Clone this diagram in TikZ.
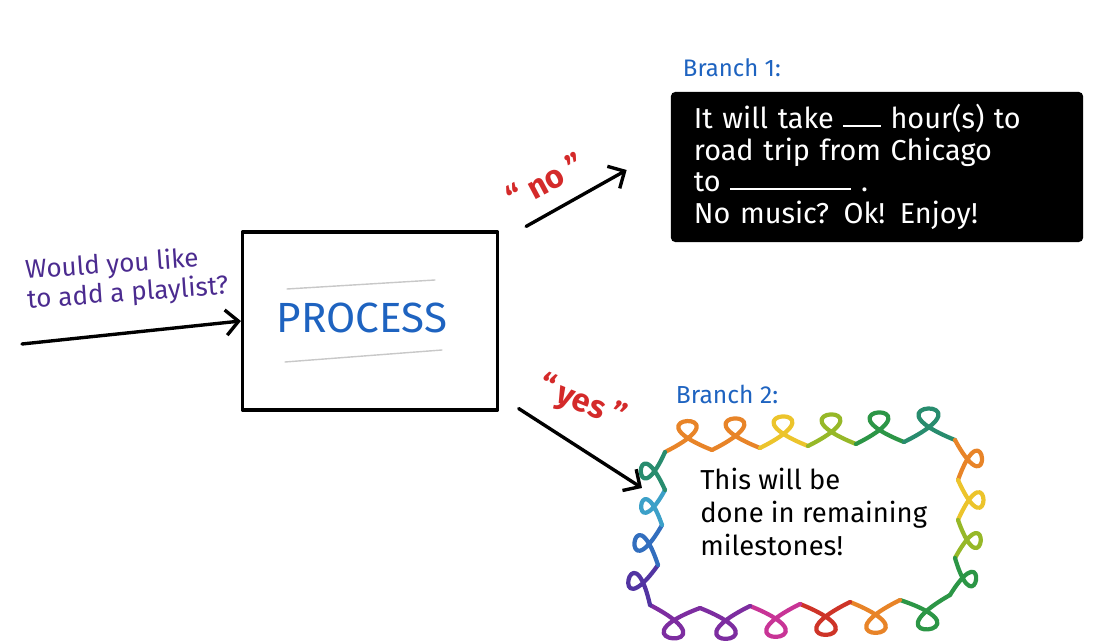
\documentclass[tikz,border=0pt]{standalone}
\usepackage{fontspec}
\setmainfont{Fira Sans}
\usepackage{tikz}
\usetikzlibrary{
  arrows.meta,
  positioning,
  calc
}
\definecolor{inkblue}{RGB}{30,99,192}
\definecolor{inkpurple}{RGB}{75,43,143}
\definecolor{inkred}{RGB}{212,42,42}
\definecolor{softgray}{RGB}{200,200,200}
\definecolor{gOrange}{RGB}{232,132,40}
\definecolor{gYellow}{RGB}{236,196,44}
\definecolor{gLime}{RGB}{150,184,40}
\definecolor{gGreen}{RGB}{44,150,70}
\definecolor{gTeal}{RGB}{40,140,110}
\definecolor{gRed}{RGB}{206,52,40}
\definecolor{gMagenta}{RGB}{200,52,150}
\definecolor{gPurple}{RGB}{125,45,160}
\definecolor{gIndigo}{RGB}{82,52,162}
\definecolor{gBlue}{RGB}{50,110,190}
\definecolor{gCyan}{RGB}{60,160,200}
\newcommand{\blank}[1]{\rule[0.05em]{#1}{1.6pt}}

\begin{document}
\begin{tikzpicture}[x=0.025cm, y=-0.025cm, line cap=round, line join=round,
  flow/.style={draw, line width=2.4pt, -{Straight Barb[length=9pt, width=18pt]}},
  glitter/.style={draw=#1, line width=3pt}]
  \useasboundingbox (0,0) rectangle (1112,642);

  % process box
  \node[draw, line width=2.2pt, minimum width=6.375cm, minimum height=4.45cm] (proc) at (370,321) {};
  \node[text=inkblue, font=\fontsize{30}{32}\selectfont] (ptext) at (362,318) {PROCESS};
  \draw[softgray, line width=1pt] (287,289) -- (435,280);
  \draw[softgray, line width=1pt] (285,362) -- (442,350);

  % input
  \coordinate (in) at (22,344);
  \node[anchor=south west, align=left, text=inkpurple, font=\fontsize{18.5}{21}\selectfont, rotate=4, inner sep=0pt] (ask) at (28,314) {Would you like\\to add a playlist?};
  \draw[flow] (in) -- (proc.west);

  % branch 1
  \node[fill=black, rounded corners=3pt, minimum width=10.3cm, minimum height=3.75cm, inner xsep=0.575cm,
        text width=9.15cm, align=left, text=white, font=\fontsize{20.5}{22.5}\selectfont] (bone) at (877,167)
    {It will take \blank{1.3em} hour(s) to\\road trip from Chicago\\to \blank{4.2em} .\\No music? Ok! Enjoy!};
  \node[anchor=base west, text=inkblue, font=\fontsize{17}{20}\selectfont] (lone) at (678,77) {Branch 1:};
  \draw[flow] ([shift={(0.675cm,0.1cm)}]proc.north east) -- ([shift={(-1.1cm,-0.075cm)}]bone.west);
  \node[text=inkred, font=\bfseries\fontsize{23}{25}\selectfont, rotate=28] (nolabel) at (545,181) {“ no ”};

  % branch 2
  \node[anchor=west, align=left, inner sep=0pt, font=\fontsize{19.5}{23.5}\selectfont] (btwo) at (700,512)
    {This will be\\done in remaining\\milestones!};
  \node[anchor=base west, text=inkblue, font=\fontsize{17.5}{20}\selectfont] (ltwo) at (671,404) {Branch 2:};
  \draw[flow] ([shift={(0.49cm,0.075cm)}]proc.south east) -- ([shift={(-1.45cm,0.6cm)}]btwo.west);
  \node[text=inkred, font=\bfseries\fontsize{23}{25}\selectfont, rotate=-22] (yeslabel) at (582,403) {“\,yes ”};

  % rainbow bubble
  \foreach \n/\px/\py in {0/665/452, 1/712/450, 2/760/448, 3/808/446, 4/856/444, 5/904/442, 6/955/440,
                          7/958/480, 8/958/520, 9/955/558, 10/950/595,
                          11/900/600, 12/850/602, 13/800/604, 14/750/606, 15/700/608, 16/650/605,
                          17/658/565, 18/662/525, 19/665/490}
    \coordinate (b\n) at (\px,\py);
  \foreach \i/\j/\col in {0/1/gOrange, 1/2/gOrange, 2/3/gYellow, 3/4/gLime, 4/5/gGreen, 5/6/gTeal,
                          6/7/gOrange, 7/8/gYellow, 8/9/gLime, 9/10/gGreen,
                          10/11/gGreen, 11/12/gOrange, 12/13/gRed, 13/14/gMagenta, 14/15/gPurple, 15/16/gPurple,
                          16/17/gIndigo, 17/18/gBlue, 18/19/gCyan, 19/0/gTeal}
    \draw[glitter=\col] (b\i) .. controls ($(b\i)!1.9!(b\j) + (b\i)!0.85!90:(b\j) - (b\i)$)
      and ($(b\i)!-0.9!(b\j) + (b\i)!0.85!90:(b\j) - (b\i)$) .. (b\j);
\end{tikzpicture}
\end{document}
